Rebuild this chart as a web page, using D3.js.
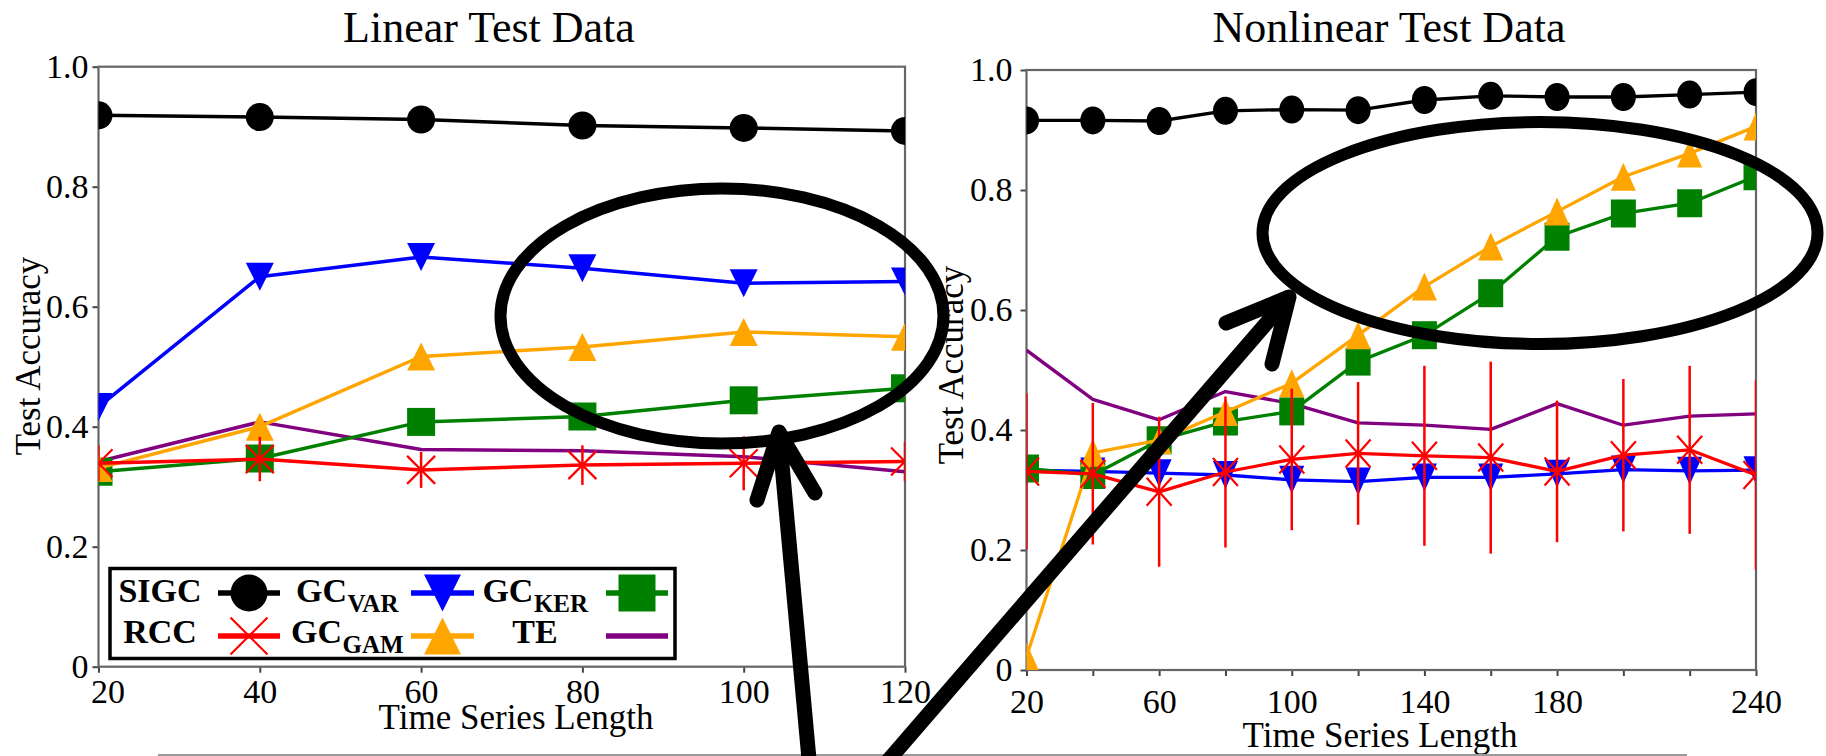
<!DOCTYPE html>
<html>
<head>
<meta charset="utf-8">
<script src="https://cdn.jsdelivr.net/npm/d3@7"></script>
<style>
  body { margin: 0; background: #fff; }
  svg { display: block; }
  svg text { font-family: "Liberation Serif", "Times New Roman", serif; fill: #000; }
</style>
</head>
<body>
<div id="chart"></div>
<script>
// x values
const lengthsLinear = [20, 40, 60, 80, 100, 120]
const lengthsNonlinear = [20, 40, 60, 80, 100, 120, 140, 160, 180, 200, 220, 240]

// tick labels
const yTicks = [0, 0.2, 0.4, 0.6, 0.8, 1.0]
const yTickLabels = ["0", "0.2", "0.4", "0.6", "0.8", "1.0"]
const xLabelsNonlinear = [20, 60, 100, 140, 180, 240]

// Linear test data
const sigcLin = [0.919, 0.916, 0.912, 0.902, 0.898, 0.893]
const gcVarLin = [0.433, 0.650, 0.683, 0.664, 0.639, 0.642]
const gcKerLin = [0.325, 0.347, 0.408, 0.417, 0.444, 0.464]
const rccLin = [0.339, 0.346, 0.328, 0.336, 0.339, 0.342]
const rccErrLin = [0.030, 0.037, 0.030, 0.033, 0.045, 0.033]
const gcGamLin = [0.331, 0.400, 0.517, 0.533, 0.558, 0.550]
const teLin = [0.342, 0.408, 0.362, 0.360, 0.350, 0.325]

// Nonlinear test data
const sigcNon = [0.916, 0.916, 0.915, 0.932, 0.934, 0.933, 0.950, 0.957, 0.955, 0.955, 0.959, 0.963]
const gcVarNon = [0.333, 0.331, 0.328, 0.325, 0.317, 0.314, 0.321, 0.321, 0.327, 0.334, 0.332, 0.333]
const gcKerNon = [0.336, 0.325, 0.383, 0.414, 0.431, 0.514, 0.558, 0.628, 0.722, 0.761, 0.778, 0.823]
const rccNon = [0.331, 0.327, 0.297, 0.330, 0.351, 0.361, 0.357, 0.354, 0.331, 0.358, 0.367, 0.325]
const rccErrNon = [0.130, 0.118, 0.125, 0.126, 0.118, 0.119, 0.150, 0.160, 0.118, 0.127, 0.140, 0.158]
const gcGamNon = [0.022, 0.362, 0.383, 0.430, 0.478, 0.558, 0.639, 0.706, 0.764, 0.822, 0.861, 0.906]
const teNon = [0.533, 0.451, 0.417, 0.464, 0.444, 0.412, 0.408, 0.401, 0.444, 0.408, 0.423, 0.427]

const W = 1826, H = 756
const serif = '"Liberation Serif", "Times New Roman", serif'

const svg = d3.select("#chart").append("svg")
    .attr("width", W)
    .attr("height", H)

svg.append("rect").attr("width", W).attr("height", H).attr("fill", "#fff")

// marker shapes, w/h = half width / half height
function markerPath(shape, w, h) {
    const p = d3.path()
    if (shape === "circle") {
        return "M" + (-w) + ",0A" + w + "," + h + " 0 1,0 " + w + ",0A" + w + "," + h + " 0 1,0 " + (-w) + ",0Z"
    } else if (shape === "up") {
        p.moveTo(0, -h); p.lineTo(w, h); p.lineTo(-w, h); p.closePath()
    } else if (shape === "down") {
        p.moveTo(0, h); p.lineTo(w, -h); p.lineTo(-w, -h); p.closePath()
    } else if (shape === "square") {
        p.rect(-w, -h, 2 * w, 2 * h)
    } else if (shape === "x") {
        p.moveTo(-w, -h); p.lineTo(w, h); p.moveTo(-w, h); p.lineTo(w, -h)
    }
    return p.toString()
}

function drawPanel(cfg) {
    const x = d3.scaleLinear()
        .domain([cfg.xs[0], cfg.xs[cfg.xs.length - 1]])
        .range([cfg.left, cfg.right])
    const y = d3.scaleLinear().domain([0, 1]).range([cfg.bottom, cfg.top])

    const g = svg.append("g").attr("class", "panel")

    // clip to plot area
    g.append("clipPath").attr("id", cfg.id + "-clip")
        .append("rect")
        .attr("x", cfg.left).attr("y", cfg.top)
        .attr("width", cfg.right - cfg.left).attr("height", cfg.bottom - cfg.top)

    // axes
    g.append("g")
        .attr("transform", "translate(0," + cfg.bottom + ")")
        .call(d3.axisBottom(x)
            .tickValues(cfg.xs)
            .tickSize(6)
            .tickSizeOuter(0)
            .tickPadding(cfg.xPad)
            .tickFormat(d => cfg.xLabels.includes(d) ? d : ""))
        .call(a => a.select(".domain").remove())
        .call(a => a.selectAll("line").attr("stroke", "#444").attr("stroke-width", 2))
        .call(a => a.selectAll("text").style("font-size", "34px").style("font-family", serif)
            .attr("dx", (d, i) => i === 0 ? cfg.firstDx : 0))

    g.append("g")
        .attr("transform", "translate(" + cfg.left + ",0)")
        .call(d3.axisLeft(y)
            .tickValues(yTicks)
            .tickSize(6)
            .tickSizeOuter(0)
            .tickPadding(cfg.yPad)
            .tickFormat((d, i) => yTickLabels[i]))
        .call(a => a.select(".domain").remove())
        .call(a => a.selectAll("line").attr("stroke", "#444").attr("stroke-width", 2))
        .call(a => a.selectAll("text").style("font-size", "34px").style("font-family", serif))

    // frame
    g.append("rect")
        .attr("x", cfg.left).attr("y", cfg.top)
        .attr("width", cfg.right - cfg.left).attr("height", cfg.bottom - cfg.top)
        .attr("fill", "none").attr("stroke", "#666").attr("stroke-width", 2.2)

    const plot = g.append("g").attr("clip-path", "url(#" + cfg.id + "-clip)")

    cfg.series.forEach(s => {
        const pts = cfg.xs.map((v, i) => ({ x: v, y: s.values[i], e: s.err ? s.err[i] : 0 }))

        if (s.err) {
            plot.append("g").selectAll("line")
                .data(pts).join("line")
                .attr("x1", d => x(d.x)).attr("x2", d => x(d.x))
                .attr("y1", d => y(d.y - d.e)).attr("y2", d => y(d.y + d.e))
                .attr("stroke", s.color).attr("stroke-width", 2.5)
        }

        plot.append("path")
            .datum(pts)
            .attr("fill", "none")
            .attr("stroke", s.color)
            .attr("stroke-width", cfg.lineWidth)
            .attr("stroke-linejoin", "round")
            .attr("d", d3.line().x(d => x(d.x)).y(d => y(d.y)))

        if (s.shape) {
            const filled = s.shape !== "x"
            plot.append("g").selectAll("path")
                .data(pts).join("path")
                .attr("transform", d => "translate(" + x(d.x) + "," + y(d.y) + ")")
                .attr("d", markerPath(s.shape, cfg.mw, cfg.mh))
                .attr("fill", filled ? s.color : "none")
                .attr("stroke", filled ? "none" : s.color)
                .attr("stroke-width", filled ? 0 : 2.2)
        }
    })

    // titles and labels
    svg.append("text")
        .attr("x", cfg.titleX).attr("y", 42)
        .attr("text-anchor", "middle")
        .style("font-size", "44px")
        .text(cfg.title)

    svg.append("text")
        .attr("x", cfg.xLabelX).attr("y", cfg.xLabelY)
        .attr("text-anchor", "middle")
        .style("font-size", "35px")
        .text("Time Series Length")

    svg.append("text")
        .attr("transform", "translate(" + cfg.yLabelX + "," + cfg.yLabelY + ") rotate(-90)")
        .attr("text-anchor", "middle")
        .style("font-size", "35px")
        .text("Test Accuracy")
}

const colors = { sigc: "#000000", rcc: "#ff0000", gcVar: "#0000ff", gcGam: "#ffa500", gcKer: "#008000", te: "#800080" }

drawPanel({
    id: "lin", title: "Linear Test Data",
    xs: lengthsLinear, xLabels: lengthsLinear, firstDx: 9,
    left: 98.5, right: 905, top: 66.7, bottom: 666.7,
    xPad: 6, yPad: 4, lineWidth: 3.5, mw: 14, mh: 14,
    titleX: 489, xLabelX: 516, xLabelY: 729, yLabelX: 40, yLabelY: 356,
    series: [
        { values: sigcLin, color: colors.sigc, shape: "circle" },
        { values: teLin, color: colors.te },
        { values: gcVarLin, color: colors.gcVar, shape: "down" },
        { values: gcKerLin, color: colors.gcKer, shape: "square" },
        { values: gcGamLin, color: colors.gcGam, shape: "up" },
        { values: rccLin, err: rccErrLin, color: colors.rcc, shape: "x" }
    ]
})

drawPanel({
    id: "non", title: "Nonlinear Test Data",
    xs: lengthsNonlinear, xLabels: xLabelsNonlinear, firstDx: 0,
    left: 1026.5, right: 1756, top: 70, bottom: 670,
    xPad: 13, yPad: 8, lineWidth: 3.3, mw: 12.5, mh: 14,
    titleX: 1389, xLabelX: 1380, xLabelY: 747, yLabelX: 963, yLabelY: 365,
    series: [
        { values: sigcNon, color: colors.sigc, shape: "circle" },
        { values: teNon, color: colors.te },
        { values: gcVarNon, color: colors.gcVar, shape: "down" },
        { values: gcKerNon, color: colors.gcKer, shape: "square" },
        { values: gcGamNon, color: colors.gcGam, shape: "up" },
        { values: rccNon, err: rccErrNon, color: colors.rcc, shape: "x" }
    ]
})

// legend (label first, then handle)
const legendItems = [
    { name: "SIGC", color: colors.sigc, shape: "circle", col: 0, row: 0 },
    { name: "GC", sub: "VAR", color: colors.gcVar, shape: "down", col: 1, row: 0 },
    { name: "GC", sub: "KER", color: colors.gcKer, shape: "square", col: 2, row: 0 },
    { name: "RCC", color: colors.rcc, shape: "x", col: 0, row: 1 },
    { name: "GC", sub: "GAM", color: colors.gcGam, shape: "up", col: 1, row: 1 },
    { name: "TE", color: colors.te, col: 2, row: 1 }
]
const legendCols = [{ text: 160, h0: 218, h1: 280 }, { text: 347, h0: 411, h1: 474 }, { text: 535, h0: 606, h1: 668 }]
const legendRows = [{ mid: 593, base: 602 }, { mid: 636, base: 643 }]

const legend = svg.append("g").attr("class", "legend")
legend.append("rect")
    .attr("x", 110).attr("y", 568.5).attr("width", 565).attr("height", 90)
    .attr("fill", "#fff").attr("stroke", "#000").attr("stroke-width", 3.5)

legendItems.forEach(it => {
    const c = legendCols[it.col], r = legendRows[it.row]
    const main = legend.append("text")
        .attr("y", r.base)
        .style("font-weight", "bold")
        .style("font-size", "34px")
        .text(it.name)
    const mw = main.node().getComputedTextLength()
    let sw = 0, sub = null
    if (it.sub) {
        sub = legend.append("text")
            .attr("y", r.base + 10)
            .style("font-weight", "bold")
            .style("font-size", "25px")
            .text(it.sub)
        sw = sub.node().getComputedTextLength()
    }
    const x0 = c.text - (mw + sw) / 2
    main.attr("x", x0)
    if (sub) sub.attr("x", x0 + mw + 0.5)

    legend.append("line")
        .attr("x1", c.h0).attr("x2", c.h1).attr("y1", r.mid).attr("y2", r.mid)
        .attr("stroke", it.color).attr("stroke-width", 5.5)
    if (it.shape) {
        const filled = it.shape !== "x"
        legend.append("path")
            .attr("transform", "translate(" + (c.h0 + c.h1) / 2 + "," + r.mid + ")")
            .attr("d", markerPath(it.shape, 18.5, 18.5))
            .attr("fill", filled ? it.color : "none")
            .attr("stroke", filled ? "none" : it.color)
            .attr("stroke-width", filled ? 0 : 2.2)
    }
})

// annotation overlay: ellipses, arrows, bottom rule
const notes = svg.append("g").attr("class", "notes")
notes.append("line")
    .attr("x1", 158).attr("x2", 1687).attr("y1", 755).attr("y2", 755)
    .attr("stroke", "#999").attr("stroke-width", 2)

const ellipses = [
    { cx: 722, cy: 316, rx: 221.5, ry: 127.5 },
    { cx: 1540, cy: 233, rx: 277.5, ry: 111 }
]
notes.selectAll("ellipse").data(ellipses).join("ellipse")
    .attr("cx", d => d.cx).attr("cy", d => d.cy)
    .attr("rx", d => d.rx).attr("ry", d => d.ry)
    .attr("fill", "none").attr("stroke", "#000").attr("stroke-width", 12)

const arrows = [
    { from: [810, 770], tip: [779, 432], w1: [757, 500], w2: [815, 493] },
    { from: [880, 770], tip: [1289, 297], w1: [1226, 323], w2: [1272, 364] }
]
arrows.forEach(a => {
    notes.append("path")
        .attr("d", "M" + a.from + "L" + a.tip + "M" + a.w1 + "L" + a.tip + "L" + a.w2)
        .attr("fill", "none").attr("stroke", "#000").attr("stroke-width", 15)
        .attr("stroke-linecap", "round").attr("stroke-linejoin", "round")
})
</script>
</body>
</html>
